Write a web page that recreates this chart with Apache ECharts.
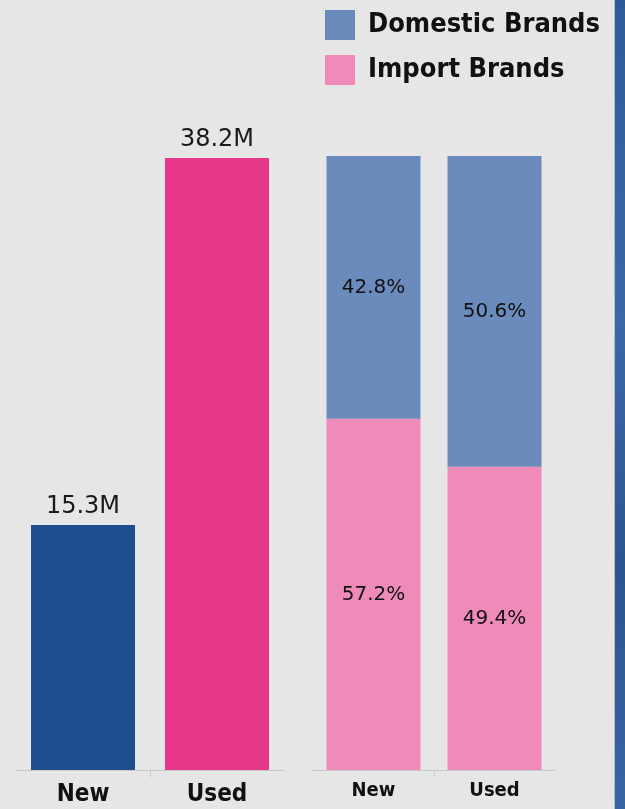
<!DOCTYPE html>
<html>
<head>
<meta charset="utf-8">
<script src="https://cdn.jsdelivr.net/npm/echarts@6/dist/echarts.min.js"></script>
<style>
html,body{margin:0;padding:0;background:#e6e6e6;}
#c{width:625px;height:809px;}
</style>
</head>
<body>
<div id="c"></div>
<script>
const categories = ['New', 'Used'];
const totalUnits = [15.3, 38.2];           // millions
const domesticShare = [42.8, 50.6];        // %
const importShare = [57.2, 49.4];          // %
const seriesNames = ['Domestic Brands', 'Import Brands'];

const FONT = "'DejaVu Sans', sans-serif";
const FONT_C = "'DejaVu Sans Condensed', 'DejaVu Sans', sans-serif";
const AXIS_COLOR = '#c8c8c8';

const chart = echarts.init(document.getElementById('c'), null, {renderer: 'canvas'});
chart.setOption({
  backgroundColor: '#e6e6e6',
  animation: false,
  legend: {
    data: seriesNames,
    orient: 'vertical',
    left: 325,
    top: 10,
    padding: 0,
    itemWidth: 30,
    itemHeight: 30,
    itemGap: 15,
    icon: 'rect',
    textStyle: {fontFamily: FONT_C, fontWeight: 'bold', fontSize: 27, color: '#111', padding: [0, 0, 0, 8]}
  },
  grid: [
    {left: 16, width: 268, top: 158, height: 612},
    {left: 313, width: 242, top: 156, height: 614}
  ],
  xAxis: [
    {type: 'category', gridIndex: 0, data: categories,
     axisLine: {lineStyle: {color: AXIS_COLOR}},
     axisTick: {show: false},
     axisLabel: {fontFamily: FONT_C, fontWeight: 'bold', fontSize: 24, color: '#111', margin: 13}},
    {type: 'category', gridIndex: 1, data: categories,
     axisLine: {lineStyle: {color: AXIS_COLOR}},
     axisTick: {show: false},
     axisLabel: {fontFamily: FONT_C, fontWeight: 'bold', fontSize: 20, color: '#111', margin: 11}}
  ],
  yAxis: [
    {type: 'value', gridIndex: 0, min: 0, max: 38.2, show: false},
    {type: 'value', gridIndex: 1, min: 0, max: 100, show: false}
  ],
  series: [
    {type: 'bar', name: 'Units', xAxisIndex: 0, yAxisIndex: 0, barWidth: 104,
     data: totalUnits.map((v, i) => ({value: v, itemStyle: {color: i === 0 ? '#1f4e8f' : '#e5388a'}})),
     label: {show: true, position: 'top', distance: 6, fontFamily: FONT, fontSize: 24, color: '#1a1a1a',
             formatter: p => p.value.toFixed(1) + 'M'}},
    {type: 'bar', name: seriesNames[1], xAxisIndex: 1, yAxisIndex: 1, stack: 'share', barWidth: 94,
     data: importShare, itemStyle: {color: '#f08ab8'},
     label: {show: true, position: 'inside', fontFamily: FONT, fontSize: 20, color: '#111',
             formatter: p => p.value.toFixed(1) + '%'}},
    {type: 'bar', name: seriesNames[0], xAxisIndex: 1, yAxisIndex: 1, stack: 'share', barWidth: 94,
     data: domesticShare, itemStyle: {color: '#6a8bbb'},
     label: {show: true, position: 'inside', fontFamily: FONT, fontSize: 20, color: '#111',
             formatter: p => p.value.toFixed(1) + '%'}}
  ]
});

// Single tick between the two categories on each axis, derived from the axis scales
const ticks = [0, 1].map(g => {
  const a = chart.convertToPixel({xAxisIndex: g, yAxisIndex: g}, [0, 0]);
  const b = chart.convertToPixel({xAxisIndex: g, yAxisIndex: g}, [1, 0]);
  const x = Math.round((a[0] + b[0]) / 2) + 0.5;
  return {type: 'line', shape: {x1: x, y1: a[1], x2: x, y2: a[1] + 7},
          style: {stroke: AXIS_COLOR, lineWidth: 1}, silent: true};
});

chart.setOption({
  graphic: [
    {type: 'rect', right: 0, top: 0, shape: {width: 10, height: 809},
     style: {fill: new echarts.graphic.LinearGradient(0, 0, 0, 1, [
       {offset: 0, color: '#2f5a98'}, {offset: 0.4, color: '#3d67a5'}, {offset: 0.7, color: '#2c5490'}, {offset: 1, color: '#3a64a2'}])}},
    {type: 'rect', right: 10, top: 0, shape: {width: 1, height: 809}, style: {fill: '#b8bcc4'}}
  ].concat(ticks)
});
</script>
</body>
</html>
